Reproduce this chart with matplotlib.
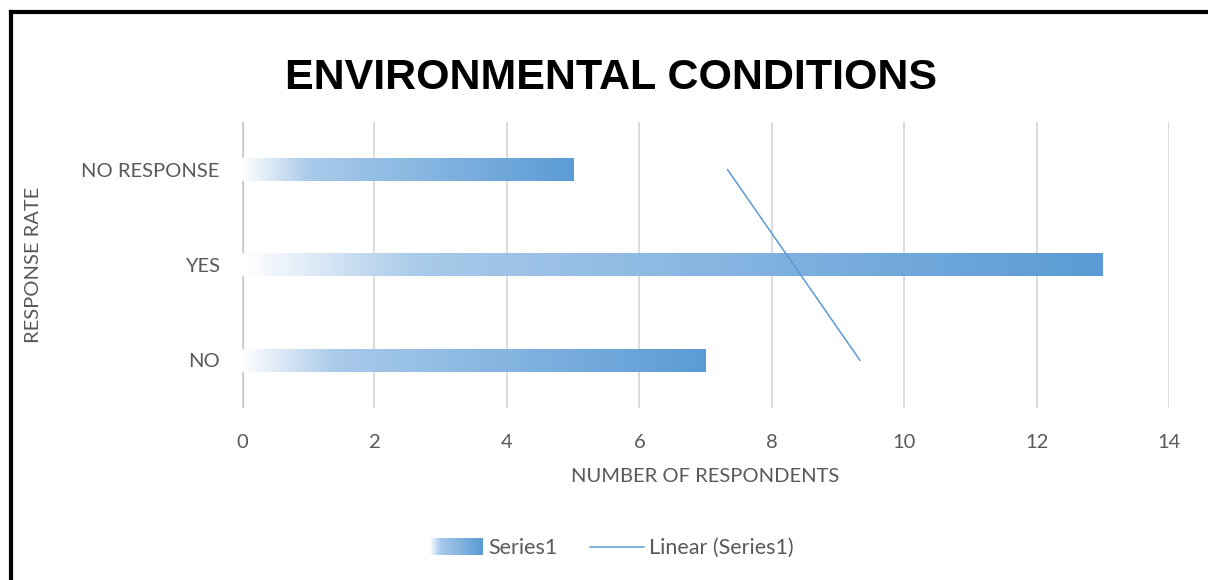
import matplotlib.pyplot as plt
import numpy as np
from matplotlib.colors import LinearSegmentedColormap
from matplotlib.patches import Rectangle
from matplotlib.lines import Line2D
from matplotlib.legend_handler import HandlerBase

categories = ["NO", "YES", "NO RESPONSE"]
respondents = [7, 13, 5]
x_ticks = [0, 2, 4, 6, 8, 10, 12, 14]

blue = "#5B9BD5"
grad = LinearSegmentedColormap.from_list(
    "bar_grad", [(0, "#FFFFFF"), (0.2, "#A9CAEA"), (1, blue)])


class GradientHandler(HandlerBase):
    def create_artists(self, legend, orig, xd, yd, width, height, fontsize, trans):
        n = 40
        arts = []
        for i in range(n):
            r = Rectangle((xd + width * i / n, yd - height * 0.05), width / n + 0.3,
                          height * 1.1, facecolor=grad(i / (n - 1)),
                          edgecolor="none", transform=trans)
            arts.append(r)
        return arts


plt.rcParams["font.family"] = ["Lato", "DejaVu Sans"]
fig = plt.figure(figsize=(12.08, 5.8), dpi=100)
ax = fig.add_axes([0.2003, 0.2966, 0.7674, 0.4931])

ypos = np.arange(len(categories))
bar_h = 0.24
ramp = np.linspace(0, 1, 256).reshape(1, -1)
for y, v in zip(ypos, respondents):
    ax.imshow(ramp, cmap=grad, aspect="auto", interpolation="bilinear",
              extent=[0, v, y - bar_h / 2, y + bar_h / 2], zorder=2)

# linear trendline over category index (Excel style)
idx = ypos + 1
slope, icpt = np.polyfit(idx, respondents, 1)
trend = slope * idx + icpt
ax.plot(trend, ypos, color=blue, lw=1.1, zorder=3)

ax.set_xlim(0, 14)
ax.set_ylim(-0.5, 2.5)
ax.set_xticks(x_ticks)
ax.set_yticks(ypos)
ax.set_yticklabels(categories)
ax.grid(axis="x", color="#D9D9D9", lw=1.3, zorder=0)
ax.axvline(0, color="#BFBFBF", lw=2, zorder=1)
for s in ax.spines.values():
    s.set_visible(False)
ax.tick_params(length=0, labelsize=14.5, labelcolor="#595959")
ax.tick_params(axis="x", pad=19)
ax.tick_params(axis="y", pad=16)
ax.set_xlabel("NUMBER OF RESPONDENTS", fontsize=14.5, color="#595959", labelpad=12)
ax.set_ylabel("RESPONSE RATE", fontsize=14.5, color="#595959", labelpad=28)

fig.text(0.506, 0.865, "ENVIRONMENTAL CONDITIONS", ha="center", va="center",
         fontsize=31, fontweight="bold", family="Liberation Sans")

handles = [Rectangle((0, 0), 1, 1), Line2D([], [], color=blue, lw=1.1)]
fig.legend(handles, ["Series1", "Linear (Series1)"], loc="center",
           bbox_to_anchor=(0.506, 0.055), ncol=2, frameon=False,
           fontsize=15.5, labelcolor="#595959", handlelength=2.5,
           handletextpad=0.25, columnspacing=1.5,
           handler_map={Rectangle: GradientHandler()})

# chart border: only left and top edges fall inside the picture
bx, by = 10.5 / 1208, 1 - 11.5 / 580
fig.add_artist(Line2D([bx, bx], [0, by], transform=fig.transFigure,
                      color="black", lw=3, solid_capstyle="projecting"))
fig.add_artist(Line2D([bx, 1], [by, by], transform=fig.transFigure,
                      color="black", lw=3, solid_capstyle="projecting"))

fig.savefig("out.png", dpi=100)
